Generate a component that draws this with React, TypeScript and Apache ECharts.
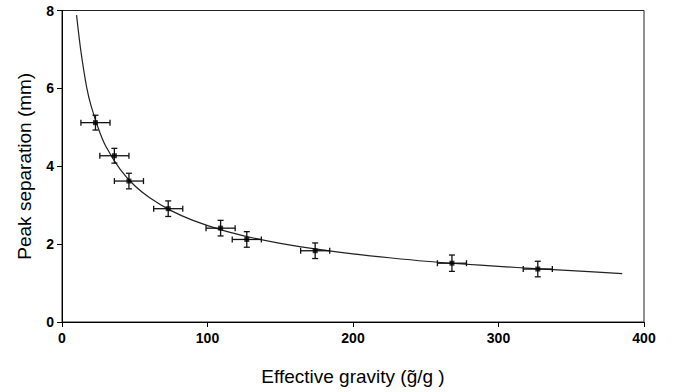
import React, { useEffect, useRef } from "react";
import * as echarts from "echarts";

// Measured points (effective gravity, peak separation)
const gravity = [23, 36, 46, 73, 109, 127, 174, 268, 327];
const separation = [5.12, 4.27, 3.62, 2.91, 2.41, 2.12, 1.83, 1.51, 1.36];
const gravityErr = [10, 10, 10, 10, 10, 10, 10, 10, 10];
const separationErr = [0.19, 0.19, 0.2, 0.2, 0.2, 0.2, 0.2, 0.21, 0.2];

// Fitted curve
const curveX = [10, 13, 17, 20, 25, 30, 40, 50, 60, 75, 90, 110, 130, 150, 175, 200, 225, 250, 275, 300, 325, 350, 385];
const curveY = [7.88, 6.95, 6.02, 5.55, 4.97, 4.52, 3.92, 3.5, 3.2, 2.86, 2.61, 2.36, 2.17, 2.02, 1.87, 1.75, 1.65, 1.56, 1.49, 1.43, 1.37, 1.32, 1.24];

const xTicks = [0, 100, 200, 300, 400];
const yTicks = [0, 2, 4, 6, 8];

export default function App() {
  const ref = useRef<HTMLDivElement>(null);
  useEffect(() => {
    if (!ref.current) return;
    const chart = echarts.init(ref.current, null, { renderer: "svg" });
    const font = "'Liberation Sans', Arial, sans-serif";
    const pts = gravity.map((g, i) => [g, separation[i], gravityErr[i], separationErr[i]]);
    chart.setOption({
      animation: false,
      backgroundColor: "#fff",
      grid: {
        left: 62,
        right: 30,
        top: 10.5,
        bottom: 70,
        show: true,
        borderColor: "#222",
        borderWidth: 1,
      },
      xAxis: {
        type: "value",
        min: xTicks[0],
        max: xTicks[xTicks.length - 1],
        interval: 100,
        name: "Effective gravity (g\u0303/g )",
        nameLocation: "middle",
        nameGap: 45,
        nameTextStyle: { fontFamily: font, fontSize: 19, color: "#000" },
        axisLine: { lineStyle: { color: "#000", width: 1 } },
        axisTick: { length: 5, lineStyle: { color: "#000" } },
        axisLabel: { fontFamily: font, fontSize: 14, fontWeight: "bold", color: "#000", margin: 9 },
        splitLine: { show: false },
      },
      yAxis: {
        type: "value",
        min: yTicks[0],
        max: yTicks[yTicks.length - 1],
        interval: 2,
        name: "Peak separation (mm)",
        nameLocation: "middle",
        nameGap: 28,
        nameTextStyle: { fontFamily: font, fontSize: 19, color: "#000" },
        axisLine: { show: true, lineStyle: { color: "#000", width: 1 } },
        axisTick: { show: true, length: 5, lineStyle: { color: "#000" } },
        axisLabel: { fontFamily: font, fontSize: 14, fontWeight: "bold", color: "#000", margin: 8 },
        splitLine: { show: false },
      },
      series: [
        {
          type: "line",
          data: curveX.map((x, i) => [x, curveY[i]]),
          smooth: 0.3,
          showSymbol: false,
          symbol: "none",
          lineStyle: { color: "#222", width: 1.2 },
          z: 1,
        },
        {
          type: "custom",
          data: pts,
          z: 2,
          renderItem: (params: any, api: any) => {
            const x = api.value(0);
            const y = api.value(1);
            const ex = api.value(2);
            const ey = api.value(3);
            const l = api.coord([x - ex, y]);
            const r = api.coord([x + ex, y]);
            const t = api.coord([x, y + ey]);
            const b = api.coord([x, y - ey]);
            const c = 3;
            const st = { stroke: "#111", lineWidth: 1.3 };
            return {
              type: "group",
              children: [
                { type: "line", shape: { x1: l[0], y1: l[1], x2: r[0], y2: r[1] }, style: st },
                { type: "line", shape: { x1: l[0], y1: l[1] - c, x2: l[0], y2: l[1] + c }, style: st },
                { type: "line", shape: { x1: r[0], y1: r[1] - c, x2: r[0], y2: r[1] + c }, style: st },
                { type: "line", shape: { x1: t[0], y1: t[1], x2: b[0], y2: b[1] }, style: st },
                { type: "line", shape: { x1: t[0] - c, y1: t[1], x2: t[0] + c, y2: t[1] }, style: st },
                { type: "line", shape: { x1: b[0] - c, y1: b[1], x2: b[0] + c, y2: b[1] }, style: st },
              ],
            };
          },
        },
        {
          type: "scatter",
          data: pts.map((p) => [p[0], p[1]]),
          symbol: "rect",
          symbolSize: 5,
          itemStyle: { color: "#000" },
          z: 3,
        },
      ],
    });
    return () => chart.dispose();
  }, []);
  return (
    <div
      ref={ref}
      style={{ position: "fixed", left: 0, top: 0, width: 674, height: 392, background: "#fff" }}
    />
  );
}
